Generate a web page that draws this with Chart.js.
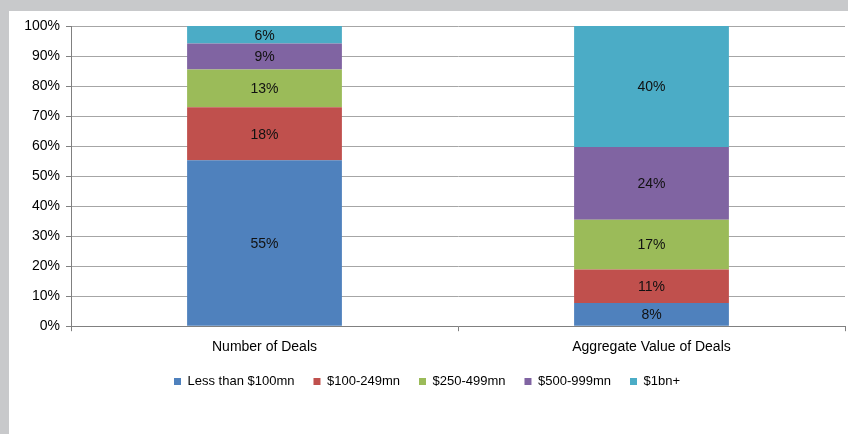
<!DOCTYPE html>
<html>
<head>
<meta charset="utf-8">
<script src="https://cdn.jsdelivr.net/npm/chart.js@4"></script>
<style>
  html, body { margin: 0; padding: 0; background: #c8c9cb; }
  #panel { position: absolute; left: 9px; top: 11px; width: 839px; height: 423px; background: #fff; }
  canvas { display: block; }
</style>
</head>
<body>
<div id="panel"><canvas id="chart" width="839" height="423"></canvas></div>
<script>
// deal size buckets, share of total (%)
const categories = ['Number of Deals', 'Aggregate Value of Deals'];
const lessThan100 = [55.3, 7.7];
const from100to249 = [17.6, 11.2];
const from250to499 = [12.6, 16.6];
const from500to999 = [8.7, 24.2];
const over1bn = [5.8, 40.3];
const yTicks = [0, 10, 20, 30, 40, 50, 60, 70, 80, 90, 100];

const FONT = "'Liberation Sans', Arial, sans-serif";

// draws the rounded % in the middle of each bar segment
const segmentLabels = {
  id: 'segmentLabels',
  afterDatasetsDraw(chart) {
    const ctx = chart.ctx;
    ctx.save();
    ctx.font = '14px ' + FONT;
    ctx.fillStyle = '#111';
    ctx.textAlign = 'center';
    ctx.textBaseline = 'middle';
    chart.data.datasets.forEach((ds, i) => {
      const meta = chart.getDatasetMeta(i);
      meta.data.forEach((bar, j) => {
        const y = (bar.y + bar.base) / 2;
        ctx.fillText(Math.round(ds.data[j]) + '%', bar.x, y + 1);
      });
    });
    ctx.restore();
  }
};

// pull the legend a bit closer to the axis labels
const tightLegend = {
  id: 'tightLegend',
  afterLayout(chart) {
    if (chart.legend) {
      chart.legend.top -= 8;
      chart.legend.bottom -= 8;
    }
  }
};

function ds(label, data, color) {
  return { label, data, backgroundColor: color, borderWidth: 0, barPercentage: 0.4, categoryPercentage: 1 };
}

new Chart(document.getElementById('chart'), {
  type: 'bar',
  data: {
    labels: categories,
    datasets: [
      ds('Less than $100mn', lessThan100, '#4f81bd'),
      ds('$100-249mn', from100to249, '#c0504d'),
      ds('$250-499mn', from250to499, '#9bbb59'),
      ds('$500-999mn', from500to999, '#8064a2'),
      ds('$1bn+', over1bn, '#4bacc6')
    ]
  },
  options: {
    responsive: false,
    animation: false,
    layout: { padding: { top: 15, right: 3, bottom: 28, left: 0 } },
    scales: {
      x: {
        stacked: true,
        grid: { display: true, drawOnChartArea: false, drawTicks: true, tickLength: 5, color: '#808080', offset: true },
        border: { color: '#808080' },
        ticks: { color: '#000', font: { family: FONT, size: 14 }, padding: 8 }
      },
      y: {
        stacked: true,
        min: 0,
        max: 100,
        afterBuildTicks(scale) { scale.ticks = yTicks.map(v => ({ value: v })); },
        afterFit(scale) { scale.width = 62; },
        grid: { color: '#a6a6a6', tickLength: 5, tickColor: '#808080' },
        border: { color: '#808080' },
        ticks: { color: '#000', font: { family: FONT, size: 14 }, padding: 6, callback: v => v + '%' }
      }
    },
    plugins: {
      legend: {
        position: 'bottom',
        labels: { boxWidth: 7, boxHeight: 7, padding: 19, color: '#000', font: { family: FONT, size: 13 } }
      },
      tooltip: { enabled: false }
    }
  },
  plugins: [segmentLabels, tightLegend]
});
</script>
</body>
</html>
